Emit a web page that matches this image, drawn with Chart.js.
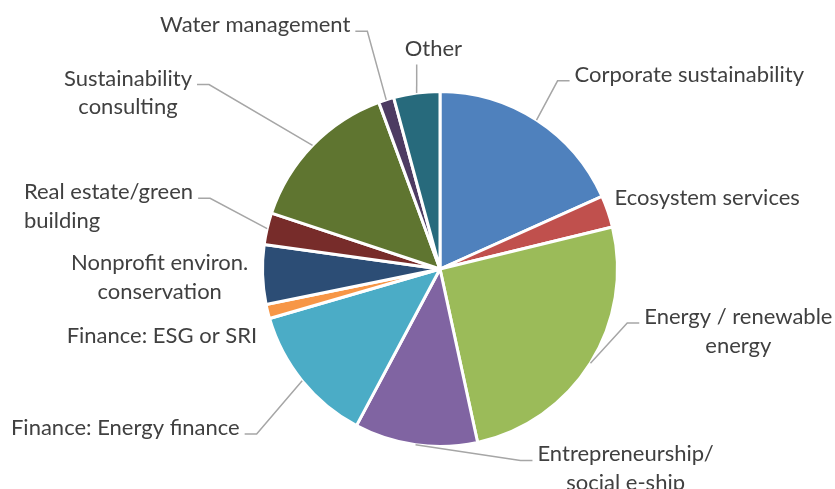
<!DOCTYPE html>
<html>
<head>
<meta charset="utf-8">
<script src="https://cdn.jsdelivr.net/npm/chart.js@4"></script>
<style>
  html, body { margin: 0; padding: 0; background: #fff; }
  #wrap { width: 835px; height: 489px; }
</style>
</head>
<body>
<div id="wrap"><canvas id="chart" width="835" height="489"></canvas></div>
<script>
// categories (multi-line where the label wraps) and their shares in %
const categories = [
    'Corporate sustainability',
    'Ecosystem services',
    ['Energy / renewable', 'energy'],
    ['Entrepreneurship/', 'social e-ship'],
    'Finance: Energy finance',
    'Finance: ESG or SRI',
    ['Nonprofit environ.', 'conservation'],
    ['Real estate/green', 'building'],
    ['Sustainability', 'consulting'],
    'Water management',
    'Other'
];
const shares = [18.3, 2.9, 25.4, 11.2, 12.7, 1.3, 5.4, 2.9, 14.3, 1.4, 4.2];
const sliceColors = [
    '#4F81BD', '#C0504D', '#9BBB59', '#8064A2', '#4BACC6', '#F79646',
    '#2C4D75', '#772C2A', '#5F7530', '#4D3B62', '#276A7C'
];

// where each label sits: angle (deg from top, clockwise) and distance as a factor of the radius
const labelPlacement = [
    { a: 32.0, r: 1.25, side: 'right', line: true, align: 'center' },
    { a: 69.7, r: 1.048, side: 'right', line: false, align: 'left' },
    { a: 106.1, r: 1.098, side: 'right', line: true, align: 'center' },
    { a: 157.2, r: 1.17, side: 'right', line: true, align: 'center' },
    { a: 228.0, r: 1.39, side: 'left', line: true, align: 'center' },
    { a: 248.1, r: 1.11, side: 'left', line: false, align: 'center' },
    { a: 270.0, r: 1.08, side: 'left', line: false, align: 'center' },
    { a: 287.1, r: 1.355, side: 'left', line: true, align: 'left' },
    { a: 308.6, r: 1.665, side: 'left', line: true, align: 'center' },
    { a: 343.0, r: 1.40, side: 'left', line: true, align: 'center' },
    { a: 353.5, r: 1.16, side: 'top', line: true, align: 'center' }
];

const FONT = '22px Lato';
const LINE_H = 28.5;

const outerLabels = {
    id: 'outerLabels',
    afterDraw(chart) {
        const ctx = chart.ctx;
        const meta = chart.getDatasetMeta(0);
        ctx.save();
        ctx.font = FONT;
        ctx.fillStyle = '#404040';
        ctx.strokeStyle = '#A6A6A6';
        ctx.lineWidth = 1.5;
        meta.data.forEach((arc, i) => {
            const p = labelPlacement[i];
            const cx = arc.x, cy = arc.y, R = arc.outerRadius;
            const mid = (arc.startAngle + arc.endAngle) / 2;
            const rim = { x: cx + Math.cos(mid) * R, y: cy + Math.sin(mid) * R };
            const ang = (p.a - 90) * Math.PI / 180;
            const e = { x: cx + Math.cos(ang) * R * p.r, y: cy + Math.sin(ang) * R * p.r };
            const lines = Array.isArray(categories[i]) ? categories[i] : [categories[i]];
            const widths = lines.map(t => ctx.measureText(t).width);
            const blockW = Math.max(...widths);
            let left, baseY = e.y + 1;

            if (p.side === 'top') {
                if (p.line) {
                    ctx.beginPath();
                    ctx.moveTo(rim.x, rim.y);
                    ctx.lineTo(e.x, e.y);
                    ctx.stroke();
                }
                left = e.x - 12;
                baseY = e.y - 8;
            } else {
                const dir = p.side === 'right' ? 1 : -1;
                let edge = e.x;
                if (p.line) {
                    ctx.beginPath();
                    ctx.moveTo(rim.x, rim.y);
                    ctx.lineTo(e.x, e.y);
                    ctx.lineTo(e.x + dir * 12, e.y);
                    ctx.stroke();
                    edge = e.x + dir * 17;
                }
                left = dir === 1 ? edge : edge - blockW;
            }

            ctx.textBaseline = 'alphabetic';
            ctx.textAlign = 'left';
            lines.forEach((t, k) => {
                const x = p.align === 'center' ? left + (blockW - widths[k]) / 2 : left;
                ctx.fillText(t, x, baseY + k * LINE_H);
            });
        });
        ctx.restore();
    }
};

new Chart(document.getElementById('chart'), {
    type: 'pie',
    data: {
        labels: categories,
        datasets: [{
            data: shares,
            backgroundColor: sliceColors,
            borderColor: '#ffffff',
            borderWidth: 3
        }]
    },
    options: {
        responsive: false,
        animation: false,
        layout: { padding: { left: 261, right: 216, top: 89, bottom: 40 } },
        plugins: {
            legend: { display: false },
            tooltip: { enabled: false }
        }
    },
    plugins: [outerLabels]
});
</script>
</body>
</html>
